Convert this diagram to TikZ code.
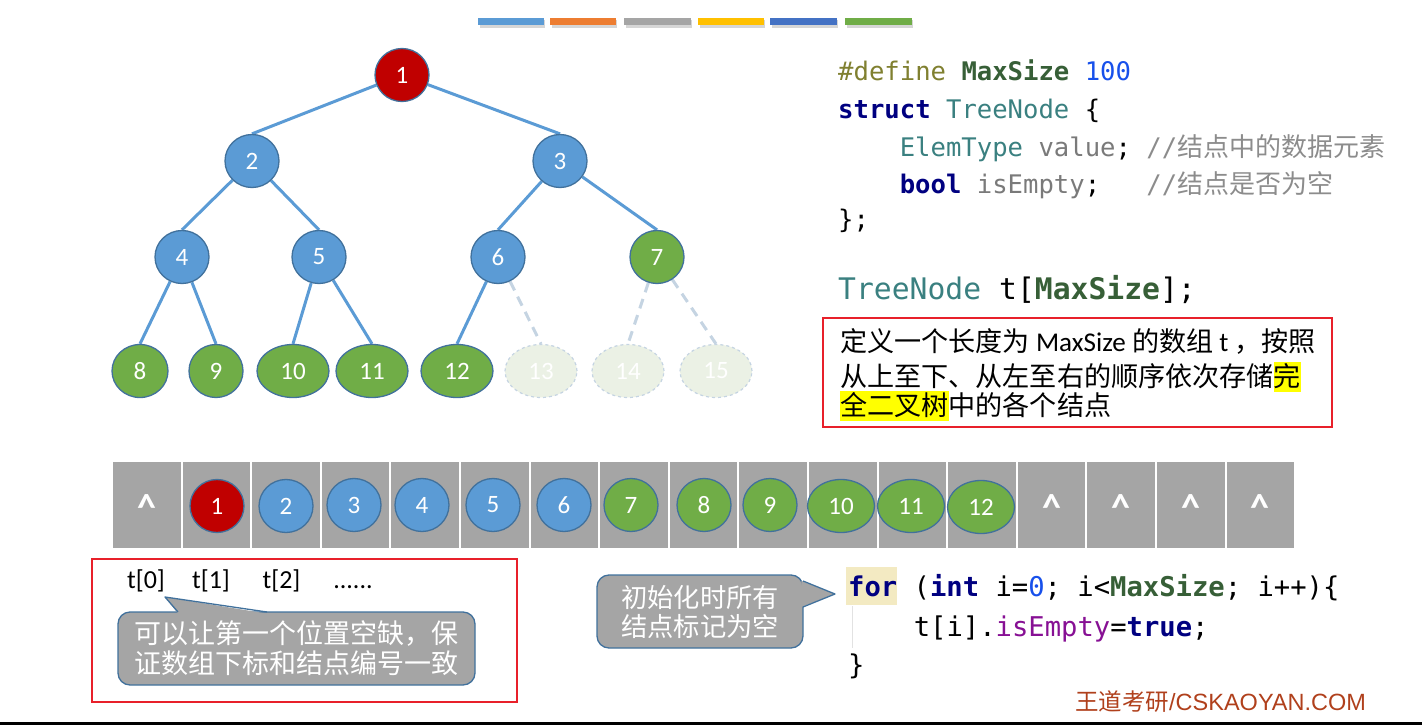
\documentclass[tikz,border=0pt]{standalone}
\usepackage{fontspec}
\setmainfont{Carlito}
\newfontfamily\cjk{Noto Sans CJK SC}
\newfontfamily\codefont{DejaVu Sans Mono}
\newfontfamily\arialfont{Liberation Sans}
\usetikzlibrary{shapes.geometric,backgrounds}

% palette
\definecolor{nodeblue}{HTML}{5B9BD5}
\definecolor{nodegreen}{HTML}{70AD47}
\definecolor{nodered}{HTML}{C00000}
\definecolor{rimblue}{HTML}{41719C}
\definecolor{cellgray}{HTML}{A5A5A5}
\definecolor{ghostfill}{HTML}{EBF1E5}
\definecolor{ghostline}{HTML}{C5D4E2}
\definecolor{boxred}{HTML}{E8202A}
\definecolor{hlyellow}{HTML}{FFFF00}
\definecolor{kwnavy}{HTML}{000080}
\definecolor{macrogreen}{HTML}{375F37}
\definecolor{classteal}{HTML}{3A8080}
\definecolor{numblue}{HTML}{1750EB}
\definecolor{directive}{HTML}{808030}
\definecolor{fieldgray}{HTML}{7A7A7A}
\definecolor{commentgray}{HTML}{8C8C8C}
\definecolor{fieldpurple}{HTML}{871094}
\definecolor{forhl}{HTML}{F3EAC2}
\definecolor{guidegray}{HTML}{E2E2E2}
\definecolor{brand}{HTML}{B0401C}
\definecolor{barA}{HTML}{5B9BD5}
\definecolor{barB}{HTML}{ED7D31}
\definecolor{barC}{HTML}{A5A5A5}
\definecolor{barD}{HTML}{FFC000}
\definecolor{barE}{HTML}{4472C4}
\definecolor{barF}{HTML}{70AD47}

\newcommand\zh[1]{{\cjk #1}}
\newcommand\hlite[1]{{\setlength\fboxsep{0pt}\colorbox{hlyellow}{\rule[-0.21em]{0pt}{1.1em}#1}}}
\newcommand\cmtzh[1]{{\cjk\fontsize{26}{30}\selectfont #1}}

\begin{document}
\begin{tikzpicture}[x=1pt,y=-1pt,
  tn/.style={ellipse, draw=rimblue, line width=1.3pt, text=white, inner sep=0pt,
    minimum width=54pt, minimum height=53pt, font=\fontsize{25}{28}\selectfont},
  bnode/.style={tn, fill=nodeblue},
  gnode/.style={tn, fill=nodegreen},
  rnode/.style={tn, fill=nodered},
  ghost/.style={tn, fill=ghostfill, draw=ghostline, dashed, line width=1.2pt},
  wide/.style={minimum width=72pt},
  awide/.style={minimum width=67pt},
  treeline/.style={draw=nodeblue, line width=3pt},
  ghostedge/.style={draw=ghostline, line width=3pt, dash pattern=on 10pt off 7pt},
  cell/.style={fill=cellgray, inner sep=0pt, minimum width=67.6pt, minimum height=86pt},
  nullmark/.style={anchor=base, text=white, inner sep=0pt, font=\bfseries\fontsize{38}{40}\selectfont},
  bar/.style={inner sep=0pt, minimum height=7.5pt},
  codeln/.style={anchor=base west, inner sep=0pt, font=\codefont\fontsize{25.6}{30}\selectfont},
  codebig/.style={anchor=base west, inner sep=0pt, font=\codefont\fontsize{29.7}{32}\selectfont},
  loopln/.style={anchor=base west, inner sep=0pt, font=\codefont\fontsize{27.2}{32}\selectfont},
  desc/.style={anchor=base west, inner sep=0pt, font=\fontsize{27.1}{30}\selectfont},
  redframe/.style={draw=boxred, line width=2pt, inner sep=0pt},
  idx/.style={anchor=base, inner sep=0pt, font=\fontsize{26}{30}\selectfont},
  bubble/.style={rectangle, rounded corners=12pt, fill=cellgray, draw=rimblue, line width=1.3pt,
    text=white, align=center, inner sep=0pt},
]
\useasboundingbox (0,0) rectangle (1422,725);

% colour strip at the top
\foreach \xa/\xb/\c [count=\k] in {478/543.7/barA, 550/615.7/barB, 624/690.7/barC,
                                   698/763.7/barD, 770/836.7/barE, 845/911.7/barF}{
  \fill[black, opacity=0.16] (\xa+1.5,20) rectangle (\xb+1.5,28);
  \node[bar, fill=\c, minimum width=\xb-\xa] (bar\k) at ({(\xa+\xb)/2},21.75) {};
}

% ---------- complete binary tree ----------
\node[rnode] (t1) at (402,75) {1};
\node[bnode] (t2) at (252,161) {2};
\node[bnode] (t3) at (560,161) {3};
\node[bnode] (t4) at (182,257) {4};
\node[bnode] (t5) at (319,257) {5};
\node[bnode] (t6) at (498,257) {6};
\node[gnode] (t7) at (657,257) {7};
\node[gnode, minimum width=56pt] (t8) at (140,371) {8};
\node[gnode] (t9) at (216,371) {9};
\node[gnode, wide] (t10) at (293,371) {10};
\node[gnode, wide] (t11) at (372,371) {11};
\node[gnode, wide] (t12) at (457,371) {12};
\node[ghost, wide] (t13) at (541,371) {13};
\node[ghost, wide] (t14) at (628,371) {14};
\node[ghost, wide] (t15) at (716,371) {15};

\begin{pgfonlayer}{background}
  \foreach \p/\c in {1/2,1/3,2/4,2/5,3/6,3/7,4/8,4/9,5/10,5/11,6/12}
    \draw[treeline] (t\p) -- (t\c.north);
  \foreach \p/\c in {6/13,7/14,7/15}
    \draw[ghostedge] (t\p) -- (t\c.north);
\end{pgfonlayer}

% ---------- structure definition ----------
\node[codeln] (l1) at (838,81) {{\color{directive}\#define} {\bfseries\color{macrogreen}MaxSize} {\color{numblue}100}};
\node[codeln] (l2) at (838,118) {{\bfseries\color{kwnavy}struct} {\color{classteal}TreeNode} \{};
\node[codeln] (l3) at (899.6,156) {{\color{classteal}ElemType} {\color{fieldgray}value}; {\color{commentgray}//\cmtzh{结点中的数据元素}}};
\node[codeln] (l4) at (899.6,193) {{\bfseries\color{kwnavy}bool} {\color{fieldgray}isEmpty};~~~{\color{commentgray}//\cmtzh{结点是否为空}}};
\node[codeln] (l5) at (838,228) {\};};
\node[codebig] (l6) at (838,299) {{\color{classteal}TreeNode} t[{\bfseries\color{macrogreen}MaxSize}];};

% explanation box
\node[redframe, minimum width=509pt, minimum height=109pt] (desc) at (1077.5,372.5) {};
\node[desc] (d1) at (840,351) {\zh{定义一个长度为} MaxSize \zh{的数组} t \zh{，按照}};
\node[desc] (d2) at (840,386) {\zh{从上至下、从左至右的顺序依次存储\hlite{完}}};
\node[desc] (d3) at (840,415) {\zh{\hlite{全二叉树}中的各个结点}};

% ---------- array t[] ----------
\foreach \i in {0,...,16}
  \node[cell] (c\i) at ({146.8+69.6*\i},505) {};
\node[rnode] (a1) at (217,506) {1};
\node[bnode] (a2) at (286,506) {2};
\node[bnode] (a3) at (354,505) {3};
\node[bnode] (a4) at (422,505) {4};
\node[bnode] (a5) at (493,505) {5};
\node[bnode] (a6) at (564,505) {6};
\node[gnode] (a7) at (631,505) {7};
\node[gnode] (a8) at (704,505) {8};
\node[gnode] (a9) at (770,505) {9};
\node[gnode, awide] (a10) at (841,506) {10};
\node[gnode, awide] (a11) at (911,506) {11};
\node[gnode, awide] (a12) at (981,507) {12};
\foreach \i in {0,13,14,15,16}
  \node[nullmark] (n\i) at ({146.8+69.6*\i},520) {\^{}};

% ---------- index note ----------
\node[redframe, minimum width=425pt, minimum height=143pt] (note) at (304.5,630.5) {};
\node[idx] (i0) at (146,588) {t[0]};
\node[idx] (i1) at (211,588) {t[1]};
\node[idx] (i2) at (281.5,588) {t[2]};
\node[idx] (i3) at (353,588) {......};
\node[bubble, minimum width=357pt, minimum height=73pt,
      font=\cjk\fontsize{27}{30}\selectfont] (tipL) at (296.5,648.5)
      {可以让第一个位置空缺，保\\证数组下标和结点编号一致};
\coordinate (pL) at (165,597);
\fill[cellgray] (178,613.6) -- (pL) -- (267,613.6) -- cycle;
\draw[rimblue, line width=1.3pt, line join=round] (178,612) -- (pL) -- (267,612);

% ---------- initialisation loop ----------
\node[bubble, minimum width=206pt, minimum height=73pt,
      font=\cjk\fontsize{26.3}{29}\selectfont] (tipR) at (700,611.5)
      {初始化时所有\\结点标记为空};
\coordinate (pR) at (835,594);
\fill[cellgray] (801.4,581) -- (pR) -- (801.4,607) -- cycle;
\draw[rimblue, line width=1.3pt, line join=round] (803,581) -- (pR) -- (803,607);

\fill[forhl] (846,567) rectangle (897,605);
\draw[guidegray, line width=1pt] (852,606) -- (852,648);
\node[loopln] (f1) at (848,596) {{\bfseries\color{kwnavy}for} ({\bfseries\color{kwnavy}int} i={\color{numblue}0}; i<{\bfseries\color{macrogreen}MaxSize}; i++)\{};
\node[loopln] (f2) at (913.6,636) {t[i].{\color{fieldpurple}isEmpty}={\bfseries\color{kwnavy}true};};
\node[loopln] (f3) at (848,674) {\}};

% ---------- footer ----------
\node[anchor=base west, inner sep=0pt, text=brand, font=\fontsize{23.5}{26}\selectfont]
  (brand) at (1075,710) {\zh{王道考研}{\arialfont /CSKAOYAN.COM}};
\fill[black] (0,722) rectangle (1422,725);
\end{tikzpicture}
\end{document}
